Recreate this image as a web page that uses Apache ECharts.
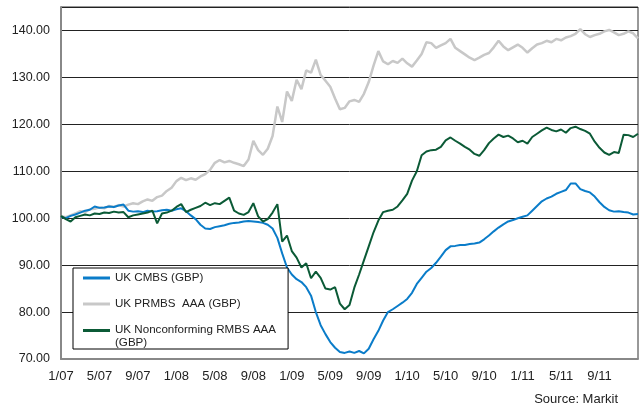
<!DOCTYPE html>
<html>
<head>
<meta charset="utf-8">
<script src="https://cdn.jsdelivr.net/npm/echarts@6/dist/echarts.min.js"></script>
<style>
  html, body { margin: 0; padding: 0; background: #fff; }
  #chart { width: 641px; height: 415px; }
</style>
</head>
<body>
<div id="chart"></div>
<script>
  // half-month steps from 1/07 (0) to 1/12 (60)
  var monthSteps = [];
  for (var i = 0; i <= 120; i++) monthSteps.push(i / 2);

  var seriesNames = ['UK CMBS (GBP)', 'UK PRMBS  AAA (GBP)', 'UK Nonconforming RMBS AAA (GBP)'];

  var cmbs = [
    100.3, 100.0, 100.5, 100.8, 101.2, 101.6, 101.8, 102.5, 102.2, 102.3,
    102.5, 102.4, 102.7, 102.9, 101.6, 101.4, 101.5, 101.3, 101.6, 101.4,
    101.5, 101.7, 101.8, 101.6, 101.9, 102.1, 101.5, 100.6, 99.8, 98.6,
    97.8, 97.7, 98.1, 98.3, 98.5, 98.8, 99.0, 99.1, 99.3, 99.4,
    99.3, 99.2, 99.0, 98.6, 97.8, 95.8, 92.5, 89.5, 88.0, 87.0,
    86.4, 85.3, 83.5, 80.0, 77.2, 75.3, 73.6, 72.4, 71.5, 71.3,
    71.6, 71.3, 71.7, 71.2, 72.2, 74.2, 76.0, 78.2, 80.0, 80.6,
    81.3, 82.0, 82.8, 84.1, 86.0, 87.3, 88.6, 89.4, 90.5, 91.8,
    93.2, 94.0, 94.1, 94.3, 94.3, 94.5, 94.6, 94.8, 95.5, 96.3,
    97.2, 98.0, 98.7, 99.3, 99.6, 100.0, 100.3, 100.6, 101.6, 102.6,
    103.6, 104.2, 104.6, 105.2, 105.6, 106.0, 107.4, 107.4, 106.2, 105.8,
    105.5, 104.6, 103.4, 102.4, 101.7, 101.4, 101.5, 101.3, 101.2, 100.8,
    100.9
  ];

  var prmbs = [
    100.4, 100.2, 100.6, 101.0, 101.5, 101.3, 101.9, 102.0, 102.3, 102.1,
    102.6, 102.4, 102.8, 102.5, 102.9, 103.2, 103.0, 103.6, 104.0, 103.7,
    104.5, 104.8, 105.8, 106.5, 107.9, 108.6, 108.1, 108.5, 108.2, 108.9,
    109.4, 110.3, 111.8, 112.4, 111.9, 112.2, 111.8, 111.5, 111.1, 112.5,
    116.5, 114.5, 113.5, 114.8, 117.5, 123.8, 120.5, 127.0, 125.0, 129.5,
    127.5, 131.5, 131.0, 133.8, 130.5, 129.3, 128.0, 125.5, 123.2, 123.5,
    124.9, 125.2, 124.8, 126.5, 129.0, 132.5, 135.6, 133.4, 132.8, 133.5,
    133.1, 134.0, 133.0, 132.3, 133.6, 135.0, 137.5, 137.3, 136.3, 136.8,
    137.3, 138.2, 136.3, 135.6, 134.9, 134.2, 133.7, 134.2, 134.8, 135.2,
    136.4, 137.8, 136.6, 135.8, 136.4, 137.0, 136.3, 135.3, 136.2, 137.0,
    137.3, 137.8, 137.5, 138.2, 137.9, 138.5, 138.8, 139.3, 140.3, 139.2,
    138.6, 139.0, 139.3, 139.8, 140.1, 139.6, 139.0, 139.3, 139.8, 139.4,
    138.3
  ];

  var nonconf = [
    100.5, 99.8, 99.3, 100.2, 100.5, 100.8, 100.6, 101.0, 100.9, 101.2,
    101.1, 101.4, 101.2, 101.3, 100.2, 100.6, 100.8, 101.0, 101.2, 101.6,
    98.9, 101.0, 101.2, 101.6, 102.4, 103.0, 101.3, 101.8, 102.2, 102.6,
    103.3, 102.8, 103.2, 103.0, 103.7, 104.4, 101.6, 101.0, 100.7, 101.3,
    103.2, 100.4, 99.3, 99.8, 101.2, 103.0, 95.0, 96.3, 93.0, 91.6,
    89.5, 90.4, 87.2, 88.6, 87.3, 85.0, 84.8, 85.3, 81.8, 80.6,
    81.5, 85.2, 88.0, 91.0, 94.0, 97.0, 99.5, 101.3, 101.6, 101.8,
    102.5, 103.8, 105.2, 108.0, 110.0, 113.4, 114.2, 114.5, 114.6, 115.2,
    116.6, 117.2, 116.5, 115.9, 115.2, 114.6, 113.7, 113.3, 114.5, 116.0,
    117.0, 117.8, 117.3, 117.6, 117.0, 116.2, 116.5, 115.9, 117.3, 118.0,
    118.7, 119.3, 118.8, 118.5, 118.9, 118.2, 119.2, 119.5, 119.0, 118.6,
    118.0, 116.3, 115.0, 114.0, 113.5, 114.1, 113.9, 117.8, 117.7, 117.3,
    118.0
  ];

  var colors = ['#0a7cc9', '#c8c8c8', '#0b5a36'];
  var font = 'Liberation Sans, Arial, sans-serif';

  function pairs(values) {
    return monthSteps.map(function (m, i) { return [m, values[i]]; });
  }

  var mychart = echarts.init(document.getElementById('chart'));

  var option = {
    animation: false,
    backgroundColor: '#fff',
    color: colors,
    textStyle: { fontFamily: font },
    title: {
      text: 'Source: Markit',
      right: 18,
      bottom: 4,
      textStyle: { fontSize: 13, fontWeight: 'normal', color: '#222', fontFamily: font }
    },
    grid: {
      left: 61,
      right: 1,
      top: 7,
      bottom: 56,
      show: true,
      borderColor: '#333',
      borderWidth: 1
    },
    legend: {
      orient: 'vertical',
      left: 73,
      top: 268,
      backgroundColor: '#fff',
      borderColor: '#000',
      borderWidth: 1,
      borderRadius: 0,
      padding: [4, 12, 0, 10],
      itemGap: 14,
      itemWidth: 27,
      itemHeight: 3,
      icon: 'rect',
      data: seriesNames,
      formatter: function (name) {
        if (name === seriesNames[2]) return '{a|UK Nonconforming RMBS AAA}\n{b|(GBP)}';
        return '{a|' + name + '}';
      },
      textStyle: {
        fontSize: 11.6,
        color: '#222',
        fontFamily: font,
        rich: {
          a: { fontSize: 11.6, lineHeight: 14, color: '#222', fontFamily: font },
          b: { fontSize: 11.6, lineHeight: 1, verticalAlign: 'top', color: '#222', fontFamily: font }
        }
      }
    },
    xAxis: {
      type: 'value',
      min: 0,
      max: 60,
      interval: 4,
      axisLine: { show: true, lineStyle: { color: '#888', width: 2 } },
      axisTick: { show: false },
      splitLine: { show: false },
      axisLabel: {
        margin: 11,
        fontSize: 13,
        color: '#222',
        fontFamily: font,
        formatter: function (v) {
          if (v >= 60) return '';
          var month = (v % 12) + 1;
          var yr = 7 + Math.floor(v / 12);
          return month + '/' + (yr < 10 ? '0' + yr : yr);
        }
      }
    },
    yAxis: {
      type: 'value',
      min: 70,
      max: 145,
      interval: 10,
      axisLine: { show: true, lineStyle: { color: '#888', width: 2 } },
      axisTick: { show: false },
      splitLine: { show: true, lineStyle: { color: '#222', width: 1 } },
      axisLabel: {
        margin: 11,
        fontSize: 12.5,
        color: '#222',
        fontFamily: font,
        formatter: function (v) { return v > 140 ? '' : v.toFixed(2); }
      }
    },
    series: [
      { name: seriesNames[0], type: 'line', data: pairs(cmbs), symbol: 'none', lineStyle: { width: 2 }, z: 3 },
      { name: seriesNames[1], type: 'line', data: pairs(prmbs), symbol: 'none', lineStyle: { width: 2.5 }, z: 2 },
      { name: seriesNames[2], type: 'line', data: pairs(nonconf), symbol: 'none', lineStyle: { width: 2 }, z: 4 }
    ]
  };

  mychart.setOption(option);
</script>
</body>
</html>
